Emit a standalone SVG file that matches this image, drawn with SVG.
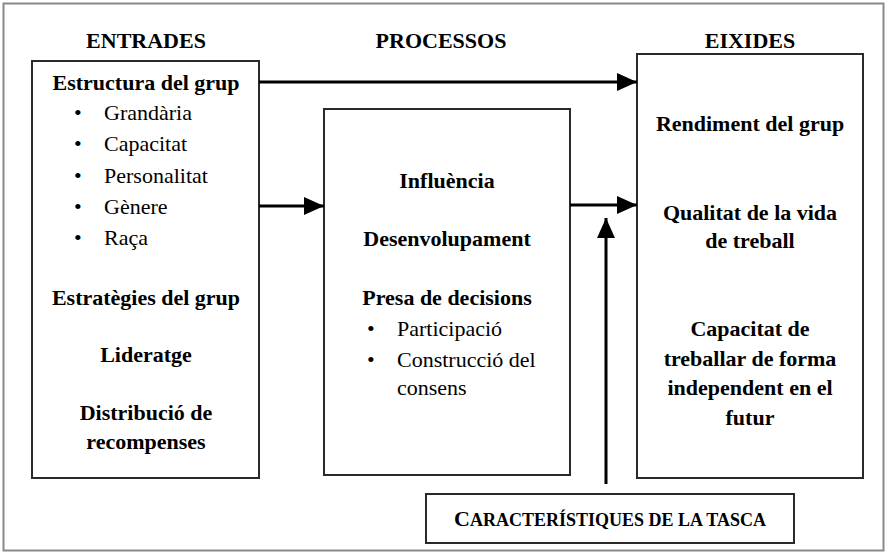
<svg xmlns="http://www.w3.org/2000/svg" width="887" height="554" viewBox="0 0 887 554">
<defs>
<marker id="ah" markerUnits="userSpaceOnUse" markerWidth="22" markerHeight="18" refX="20" refY="9" orient="auto">
<path d="M0,0 L20,9 L0,18 Z" fill="#000"/>
</marker>
<style>
.box{fill:#fff;stroke:#2a2a2a;stroke-width:2}
.b{font-family:"Liberation Serif","Times New Roman",serif;font-weight:bold;font-size:22px;fill:#000;text-anchor:middle}
.h{font-family:"Liberation Serif","Times New Roman",serif;font-weight:bold;font-size:22px;fill:#000;text-anchor:middle}
.r{font-family:"Liberation Serif","Times New Roman",serif;font-size:22px;fill:#000}
.c{stroke:#000;stroke-width:3;fill:none;marker-end:url(#ah)}
</style>
</defs>
<rect x="0" y="0" width="887" height="554" fill="#fff"/>
<rect x="3.5" y="3.5" width="880" height="547" fill="none" stroke="#8a8a8a" stroke-width="2"/>
<g id="headers">
<text class="h" x="146" y="48">ENTRADES</text>
<text class="h" x="441" y="48">PROCESSOS</text>
<text class="h" x="750" y="48">EIXIDES</text>
</g>
<g id="entrades">
<rect class="box" x="32" y="61" width="227" height="417"/>
<text class="b" x="146" y="90">Estructura del grup</text>
<text class="r" x="74" y="120">•</text><text class="r" x="104" y="120">Grandària</text>
<text class="r" x="74" y="151">•</text><text class="r" x="104" y="151">Capacitat</text>
<text class="r" x="74" y="183">•</text><text class="r" x="104" y="183">Personalitat</text>
<text class="r" x="74" y="214">•</text><text class="r" x="104" y="214">Gènere</text>
<text class="r" x="74" y="245">•</text><text class="r" x="104" y="245">Raça</text>
<text class="b" x="146" y="305">Estratègies del grup</text>
<text class="b" x="146" y="362">Lideratge</text>
<text class="b" x="146" y="420">Distribució de</text>
<text class="b" x="146" y="449">recompenses</text>
</g>
<g id="processos">
<rect class="box" x="324" y="109" width="246" height="366"/>
<text class="b" x="447" y="188">Influència</text>
<text class="b" x="447" y="246">Desenvolupament</text>
<text class="b" x="447" y="305">Presa de decisions</text>
<text class="r" x="367" y="336">•</text><text class="r" x="397" y="336">Participació</text>
<text class="r" x="367" y="367">•</text><text class="r" x="397" y="367">Construcció del</text>
<text class="r" x="397" y="395">consens</text>
</g>
<g id="eixides">
<rect class="box" x="637" y="54" width="226" height="424"/>
<text class="b" x="750" y="131">Rendiment del grup</text>
<text class="b" x="750" y="220">Qualitat de la vida</text>
<text class="b" x="750" y="248">de treball</text>
<text class="b" x="750" y="336">Capacitat de</text>
<text class="b" x="750" y="366">treballar de forma</text>
<text class="b" x="750" y="395">independent en el</text>
<text class="b" x="750" y="425">futur</text>
</g>
<g id="tasca">
<rect class="box" x="426" y="494" width="368" height="49"/>
<text class="b" x="610" y="526" font-size="24">C<tspan font-size="18">ARACTERÍSTIQUES DE LA TASCA</tspan></text>
</g>
<g id="connectors">
<line class="c" x1="259" y1="82" x2="637" y2="82"/>
<line class="c" x1="259" y1="206" x2="324" y2="206"/>
<line class="c" x1="570" y1="205" x2="637" y2="205"/>
<line class="c" x1="606" y1="484" x2="606" y2="218"/>
</g>
</svg>
